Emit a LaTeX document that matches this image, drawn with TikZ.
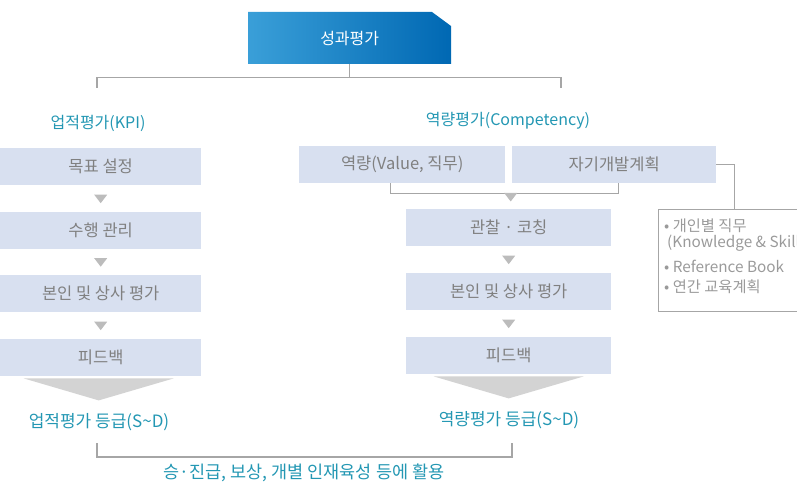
\documentclass[tikz,border=0pt]{standalone}
\usepackage{fontspec}
\setmainfont{Noto Sans CJK KR}
\usetikzlibrary{calc}
\definecolor{boxfill}{HTML}{D8E0F0}
\definecolor{boxtext}{HTML}{808080}
\definecolor{headteal}{HTML}{2397B3}
\definecolor{linegray}{HTML}{A6A6A6}
\definecolor{tri}{HTML}{BCBCBC}
\definecolor{bigtri}{HTML}{D3D3D3}
\definecolor{notetext}{HTML}{9A9A9A}
\definecolor{topL}{HTML}{3A9FD8}
\definecolor{topR}{HTML}{0068B3}
\begin{document}
\begin{tikzpicture}[x=1pt,y=-1pt,
  stepbox/.style={fill=boxfill, text=boxtext, inner sep=0pt, minimum height=37pt,
    font=\fontsize{16.5}{18}\selectfont, anchor=north west},
  headlbl/.style={text=headteal, inner sep=0pt, font=\fontsize{16}{18}\selectfont},
  conn/.style={draw=linegray, line width=1.1pt},
  notelbl/.style={text=notetext, inner sep=0pt, anchor=west, font=\fontsize{15.3}{17}\selectfont}
]
\useasboundingbox (0,0) rectangle (797,486);
\clip (0,0) rectangle (797,486);
% top box
\shade[left color=topL, right color=topR] (248,12) -- (432,12) -- (451,26) -- (451,64) -- (248,64) -- cycle;
\node[inner sep=0pt, minimum width=203pt, minimum height=52pt, anchor=north west,
  text=white, font=\fontsize{16}{18}\selectfont] (top) at (248,12) {성과평가};
% headers
\node[headlbl] (lh) at (98,123) {업적평가(KPI)};
\node[headlbl] (rh) at (508,121) {역량평가(Competency)};
% top connectors
\coordinate (tj) at ($(top.south)+(0,13)$);
\coordinate (ld) at (97,88);
\coordinate (rd) at (561,88);
\draw[conn] (top.south) -- (tj);
\draw[conn] (ld) |- (tj) -| (rd);
% left column
\node[stepbox, minimum width=201pt] (l1) at (0,148) {목표 설정};
\node[stepbox, minimum width=201pt] (l2) at (0,212) {수행 관리};
\node[stepbox, minimum width=201pt] (l3) at (0,275) {본인 및 상사 평가};
\node[stepbox, minimum width=201pt] (l4) at (0,339) {피드백};
% right column
\node[stepbox, minimum width=206pt] (ra) at (299,146) {역량(Value, 직무)};
\node[stepbox, minimum width=204pt] (rb) at (512,146) {자기개발계획};
\node[stepbox, minimum width=205pt] (r1) at (406,209) {관찰 · 코칭};
\node[stepbox, minimum width=205pt] (r2) at (406,273) {본인 및 상사 평가};
\node[stepbox, minimum width=205pt] (r3) at (406,337) {피드백};
% small triangles
\newcommand\downtri[1]{\fill[tri] ($(#1)+(-6.5,-4)$) -- ($(#1)+(6.5,-4)$) -- ($(#1)+(0,4.5)$) -- cycle;}
\downtri{$(l1.south)!0.5!(l2.north)$}
\downtri{$(l2.south)!0.5!(l3.north)$}
\downtri{$(l3.south)!0.5!(l4.north)$}
\downtri{$(r1.south)!0.5!(r2.north)$}
\downtri{$(r2.south)!0.5!(r3.north)$}
% bracket under ra / rb
\coordinate (ba) at ($(ra.south)+(-12,0)$);
\coordinate (bb) at ($(rb.south)+(4,0)$);
\draw[conn] (ba) -- ++(0,10) -| (bb);
\downtri{$(r1.north)+(2,-12)$}
% big triangles
\fill[bigtri] ($(l4.south)+(-77,2)$) -- ($(l4.south)+(73,2)$) -- ($(l4.south)+(-2,24)$) -- cycle;
\fill[bigtri] ($(r3.south)+(-75,2)$) -- ($(r3.south)+(75,2)$) -- ($(r3.south)+(0,24)$) -- cycle;
% grade labels
\node[headlbl, font=\fontsize{17}{19}\selectfont] (lg) at (99,422) {업적평가 등급(S\textasciitilde D)};
\node[headlbl, font=\fontsize{17}{19}\selectfont] (rg) at (509,420) {역량평가 등급(S\textasciitilde D)};
% bottom bracket
\coordinate (bl) at (97,443);
\coordinate (br) at (512,443);
\draw[conn] (bl) -- ++(0,14) -| (br);
\node[headlbl, font=\fontsize{17.5}{19}\selectfont] (use) at (304,473) {승·진급, 보상, 개별 인재육성 등에 활용};
% note box
\node[draw=linegray, line width=1.1pt, inner sep=0pt, minimum width=152pt, minimum height=102pt,
  anchor=north west] (note) at (658,209) {};
\draw[conn] (rb.east) -| (note.north);
\node[notelbl] (n1) at (664,226) {• 개인별 직무};
\node[notelbl] (n2) at (667,243) {(Knowledge \& Skill)};
\node[notelbl] (n3) at (664,266) {• Reference Book};
\node[notelbl] (n4) at (664,287) {• 연간 교육계획};
\end{tikzpicture}
\end{document}
